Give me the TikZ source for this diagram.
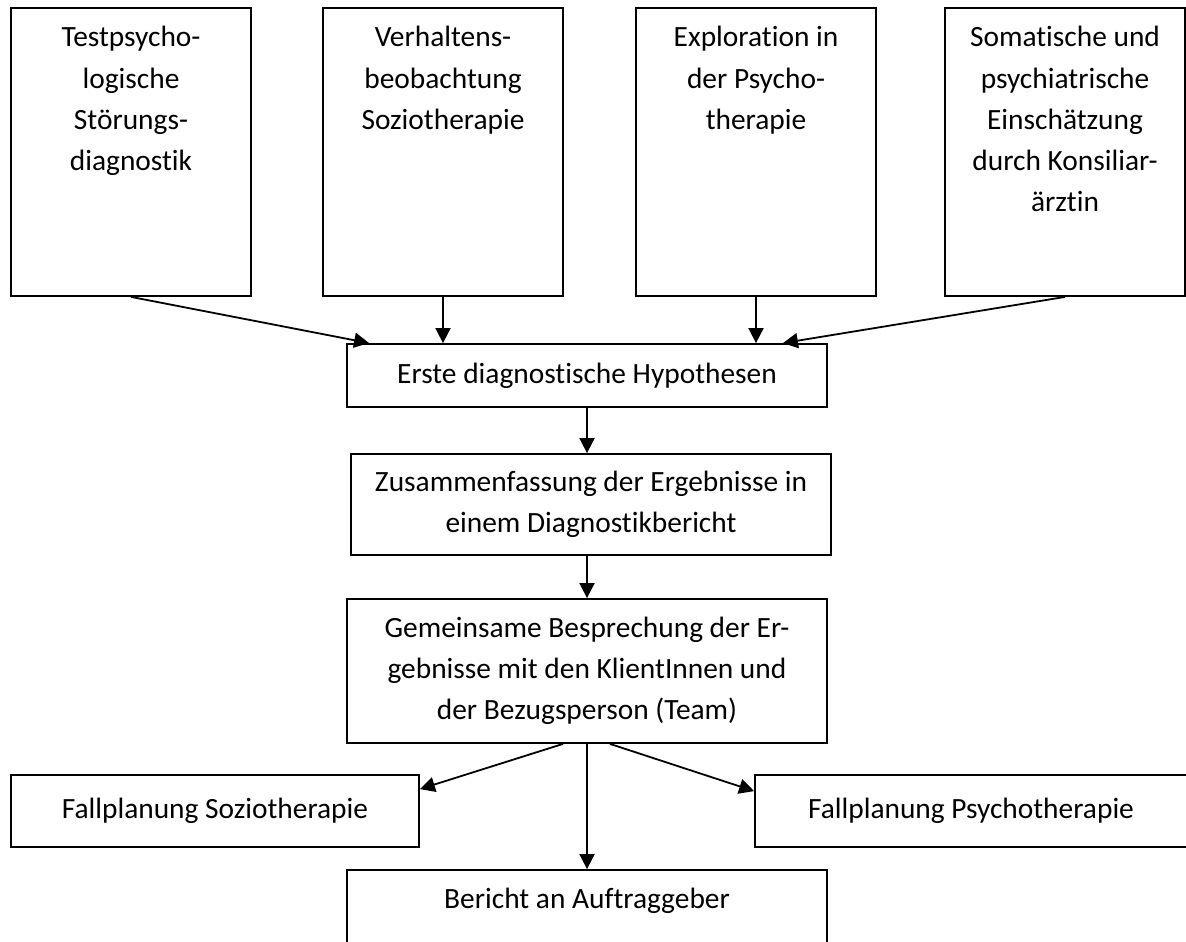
\documentclass[tikz,border=0pt]{standalone}
\usepackage{fontspec}
\setmainfont{Carlito}[Ligatures=NoCommon]
\usetikzlibrary{arrows.meta, positioning}

\begin{document}
\begin{tikzpicture}[
    x=0.5pt, y=-0.5pt,
    >={Triangle[length=7.5pt, width=7.5pt]},
    %% ── node styles ──────────────────────────────────────────────────────────
    quelle/.style={
        rectangle, draw, line width=0.9pt, inner sep=0pt,
        minimum width=120pt, minimum height=144pt
    },
    stufe/.style={
        rectangle, draw, line width=0.9pt, inner sep=0pt,
        minimum width=240pt, align=center,
        font=\fontsize{14.7}{20.6}\selectfont
    },
    boxtext/.style={
        inner sep=0pt, align=center,
        font=\fontsize{14.7}{20.6}\selectfont
    },
    %% ── edge styles ──────────────────────────────────────────────────────────
    flow/.style={->, line width=0.9pt},
]
\useasboundingbox (0,0) rectangle (1186,941);
\clip (0,0) rectangle (1186,941);

%% ── Sources of information (top row) ────────────────────────────────────────
\node[quelle] (test)   at (131,152)  {};
\node[quelle] (verh)   at (443,152)  {};
\node[quelle] (explo)  at (756,152)  {};
\node[quelle] (konsil) at (1065,152) {};

\node[boxtext, below=9.5pt of test.north]   (test-t)   {Testpsycho-\\logische\\Störungs-\\diagnostik};
\node[boxtext, below=9.5pt of verh.north]   (verh-t)   {Verhaltens-\\beobachtung\\Soziotherapie};
\node[boxtext, below=9.5pt of explo.north]  (explo-t)  {Exploration in\\der Psycho-\\therapie};
\node[boxtext, below=9.5pt of konsil.north] (konsil-t) {Somatische und\\psychiatrische\\Einschätzung\\durch Konsiliar-\\ärztin};

%% ── Main column ──────────────────────────────────────────────────────────────
\node[stufe, minimum height=31.5pt] (erste) at (587,375.5) {Erste diagnostische Hypothesen};
\node[stufe, minimum height=50.5pt] (zus)   at (591,504.5) {Zusammenfassung der Ergebnisse in\\einem Diagnostikbericht};
\node[stufe, minimum height=72pt]   (gem)   at (587,671)   {Gemeinsame Besprechung der Er-\\gebnisse mit den KlientInnen und\\der Bezugsperson (Team)};

%% ── Outcomes ─────────────────────────────────────────────────────────────────
\node[stufe, minimum width=204pt, minimum height=36pt] (soz) at (215,811) {Fallplanung Soziotherapie};
\node[stufe, minimum width=216pt, minimum height=36pt] (psy) at (971,811) {Fallplanung Psychotherapie};
\node[stufe, minimum height=50pt] (ber) at (587,920) {};
\node[boxtext, below=9.5pt of ber.north] (ber-t) {Bericht an Auftraggeber};

%% ─────────────────────────────────────────────────────────────────────────────
%% Connectors
%% ─────────────────────────────────────────────────────────────────────────────
\draw[flow] (test.south)   -- ([xshift=11.5pt]erste.north west);
\draw[flow] (verh.south)   -- (verh.south |- erste.north);
\draw[flow] (explo.south)  -- (explo.south |- erste.north);
\draw[flow] (konsil.south) -- ([xshift=-22.5pt]erste.north east);

\draw[flow] (erste.south) -- (erste.south |- zus.north);
\draw[flow] (erste.south |- zus.south) -- (erste.south |- gem.north);

\draw[flow] ([xshift=-12pt]gem.south)  -- ([yshift=-7.5pt]soz.north east);
\draw[flow] ([xshift=11.5pt]gem.south) -- ([yshift=-8.5pt]psy.north west);
\draw[flow] (gem.south) -- (gem.south |- ber.north);

\end{tikzpicture}
\end{document}
